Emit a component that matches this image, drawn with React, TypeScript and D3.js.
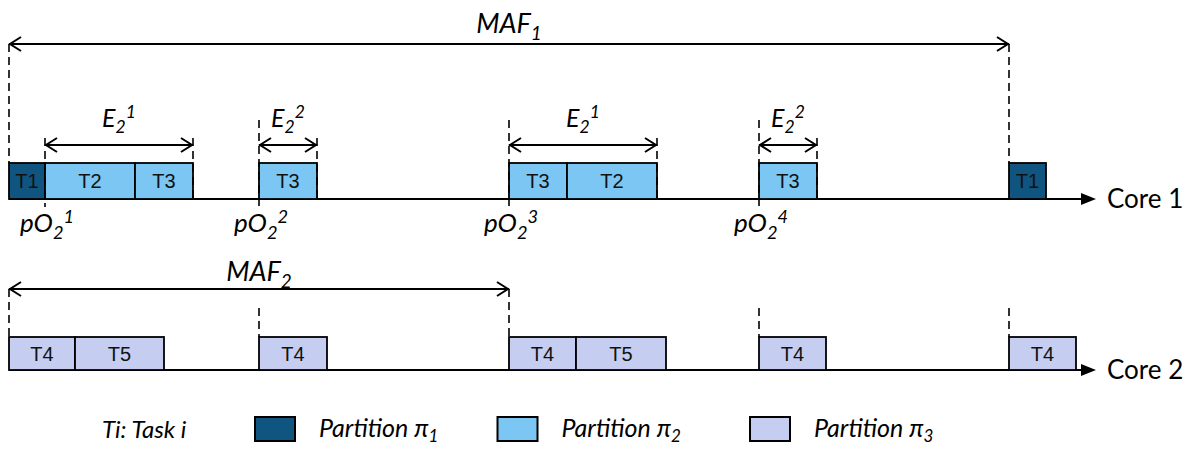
import React, { useEffect, useRef } from 'react';
import * as d3 from 'd3';

// task slots on each core (time units, MAF1 = 100)
const core1Tasks = [
  { name: 'T1', partition: 1, start: 0, end: 3.6 },
  { name: 'T2', partition: 2, start: 3.6, end: 12.6 },
  { name: 'T3', partition: 2, start: 12.6, end: 18.4 },
  { name: 'T3', partition: 2, start: 25, end: 30.8 },
  { name: 'T3', partition: 2, start: 50, end: 55.8 },
  { name: 'T2', partition: 2, start: 55.8, end: 64.8 },
  { name: 'T3', partition: 2, start: 75, end: 80.8 },
  { name: 'T1', partition: 1, start: 100, end: 103.7 },
];

const core2Tasks = [
  { name: 'T4', partition: 3, start: 0, end: 6.6 },
  { name: 'T5', partition: 3, start: 6.6, end: 15.5 },
  { name: 'T4', partition: 3, start: 25, end: 31.8 },
  { name: 'T4', partition: 3, start: 50, end: 56.7 },
  { name: 'T5', partition: 3, start: 56.7, end: 65.7 },
  { name: 'T4', partition: 3, start: 75, end: 81.7 },
  { name: 'T4', partition: 3, start: 100, end: 106.7 },
];

// partition 2 windows on core 1
const p2Windows = [
  { start: 3.6, end: 18.4, budget: '1', offset: '1' },
  { start: 25, end: 30.8, budget: '2', offset: '2' },
  { start: 50, end: 64.8, budget: '1', offset: '3' },
  { start: 75, end: 80.8, budget: '2', offset: '4' },
];

const maf1 = { label: '1', start: 0, end: 100 };
const maf2 = { label: '2', start: 0, end: 50 };
const core2Releases = [25, 75, 100];

const legendItems = [
  { partition: 1, label: '1' },
  { partition: 2, label: '2' },
  { partition: 3, label: '3' },
];

const partitionColors: Record<number, string> = {
  1: '#10557f',
  2: '#7bc6f2',
  3: '#c5cef0',
};

const WIDTH = 1196;
const HEIGHT = 450;
const ITALIC_FONT = 'Lato, "Open Sans", sans-serif';

const App: React.FC = () => {
  const svgRef = useRef<SVGSVGElement>(null);

  useEffect(() => {
    const svg = d3.select(svgRef.current);
    svg.selectAll('*').remove();

    const x = d3.scaleLinear().domain([0, 100]).range([9, 1009]);

    const core1 = { axisY: 199, top: 163 };
    const core2 = { axisY: 370, top: 337 };

    const g = svg.append('g');

    const dashed = (xv: number, y1: number, y2: number) => {
      g.append('line')
        .attr('x1', xv).attr('x2', xv)
        .attr('y1', y1).attr('y2', y2)
        .attr('stroke', '#000')
        .attr('stroke-width', 1.6)
        .attr('stroke-dasharray', '8,5');
    };

    // double headed arrow with open heads
    const dblArrow = (x1: number, x2: number, y: number) => {
      g.append('line')
        .attr('x1', x1).attr('x2', x2)
        .attr('y1', y).attr('y2', y)
        .attr('stroke', '#000').attr('stroke-width', 2);
      const head = 12, half = 7;
      g.append('path')
        .attr('d', `M${x1 + head},${y - half}L${x1 + 1},${y}L${x1 + head},${y + half}`)
        .attr('fill', 'none').attr('stroke', '#000').attr('stroke-width', 2);
      g.append('path')
        .attr('d', `M${x2 - head},${y - half}L${x2 - 1},${y}L${x2 - head},${y + half}`)
        .attr('fill', 'none').attr('stroke', '#000').attr('stroke-width', 2);
    };

    const subSupLabel = (
      cx: number, y: number, base: string, sub: string, sup: string | null, size: number
    ) => {
      const t = g.append('text')
        .attr('x', cx).attr('y', y)
        .attr('text-anchor', 'middle')
        .attr('font-family', ITALIC_FONT)
        .attr('font-style', 'italic')
        .attr('font-size', size)
        .attr('fill', '#000');
      t.append('tspan').text(base);
      t.append('tspan').attr('dy', size * 0.25).attr('font-size', size * 0.7).text(sub);
      if (sup) {
        t.append('tspan').attr('dy', -size * 0.6).attr('font-size', size * 0.7).text(sup);
      }
    };

    // time axes with arrow
    [core1, core2].forEach((c, i) => {
      g.append('line')
        .attr('x1', x(0)).attr('x2', 1083)
        .attr('y1', c.axisY).attr('y2', c.axisY)
        .attr('stroke', '#000').attr('stroke-width', 2);
      g.append('path')
        .attr('d', `M1081,${c.axisY - 6}L1096,${c.axisY}L1081,${c.axisY + 6}Z`)
        .attr('fill', '#000');
      g.append('text')
        .attr('x', 1107).attr('y', c.axisY + 9)
        .attr('font-family', 'Lato, "Open Sans", sans-serif')
        .attr('font-size', 26)
        .text(`Core ${i + 1}`);
    });

    // task boxes
    const drawTasks = (tasks: typeof core1Tasks, c: { axisY: number; top: number }) => {
      const sel = g.selectAll(null)
        .data(tasks)
        .enter()
        .append('g');
      sel.append('rect')
        .attr('x', d => x(d.start))
        .attr('y', c.top)
        .attr('width', d => x(d.end) - x(d.start))
        .attr('height', c.axisY - c.top)
        .attr('fill', d => partitionColors[d.partition])
        .attr('stroke', '#000')
        .attr('stroke-width', 1.8);
      sel.append('text')
        .attr('x', d => (x(d.start) + x(d.end)) / 2)
        .attr('y', (c.top + c.axisY) / 2 + 7)
        .attr('text-anchor', 'middle')
        .attr('font-family', '"Liberation Sans", Arial, sans-serif')
        .attr('font-size', 20)
        .attr('fill', '#111')
        .text(d => d.name);
    };
    drawTasks(core1Tasks, core1);
    drawTasks(core2Tasks, core2);

    // MAF1
    dashed(x(maf1.start), 44, core1.top);
    dashed(x(maf1.end), 44, core1.top);
    dblArrow(x(maf1.start), x(maf1.end), 44);
    subSupLabel((x(maf1.start) + x(maf1.end)) / 2, 33, 'MAF', maf1.label, null, 27);

    // partition 2 windows
    p2Windows.forEach((w, i) => {
      const y0 = i === 0 ? 138 : 120;
      dashed(x(w.start), y0, core1.axisY + 8);
      dashed(x(w.end), 138, core1.axisY);
      dblArrow(x(w.start), x(w.end), 145);
      subSupLabel((x(w.start) + x(w.end)) / 2, 127, 'E', '2', w.budget, 25);
      subSupLabel(x(w.start) + 2, 232, 'pO', '2', w.offset, 26);
    });

    // MAF2
    dashed(x(maf2.start), 289, core2.top);
    dashed(x(maf2.end), 289, core2.top);
    dblArrow(x(maf2.start), x(maf2.end), 289);
    subSupLabel((x(maf2.start) + x(maf2.end)) / 2, 281, 'MAF', maf2.label, null, 27);
    core2Releases.forEach(r => dashed(x(r), 308, core2.top));

    // legend
    const legendY = 417;
    g.append('text')
      .attr('x', 102).attr('y', 438)
      .attr('font-family', ITALIC_FONT)
      .attr('font-style', 'italic')
      .attr('font-size', 24)
      .text('Ti: Task i');
    const legendX = d3.scalePoint<number>()
      .domain(legendItems.map(d => d.partition))
      .range([255, 750]);
    legendItems.forEach(item => {
      const lx = legendX(item.partition) as number;
      const bx = item.partition === 2 ? lx - 5 : lx;
      g.append('rect')
        .attr('x', bx).attr('y', legendY)
        .attr('width', 40).attr('height', 24)
        .attr('fill', partitionColors[item.partition])
        .attr('stroke', '#000').attr('stroke-width', 2);
      const t = g.append('text')
        .attr('x', bx + 64).attr('y', 437)
        .attr('font-family', ITALIC_FONT)
        .attr('font-style', 'italic')
        .attr('font-size', 25);
      t.append('tspan').text('Partition π');
      t.append('tspan').attr('dy', 5).attr('font-size', 17).text(item.label);
    });
  }, []);

  return (
    <div style={{ margin: -8 }}>
      <svg
        ref={svgRef}
        width={WIDTH}
        height={HEIGHT}
        viewBox={`0 0 ${WIDTH} ${HEIGHT}`}
        style={{ display: 'block', background: '#fff' }}
      />
    </div>
  );
};

export default App;
